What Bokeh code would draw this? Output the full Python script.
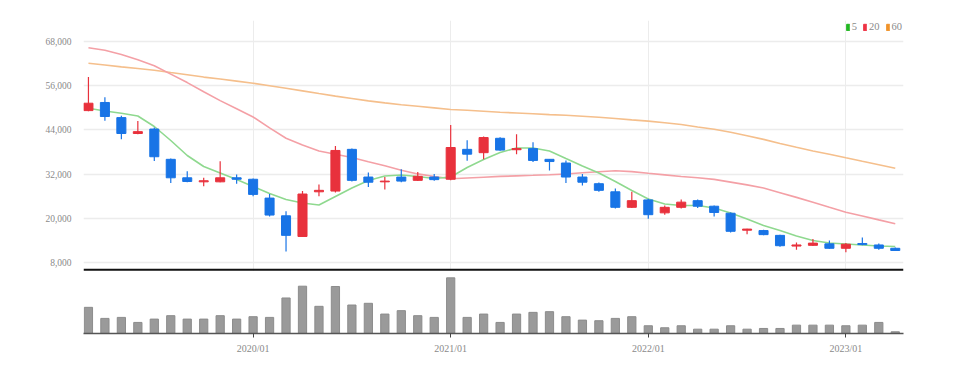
from bokeh.plotting import figure
from bokeh.models import (FixedTicker, NumeralTickFormatter, Span, Range1d,
                          Legend, LegendItem, ColumnDataSource)
from bokeh.layouts import column
from bokeh.embed import file_html
from bokeh.resources import INLINE

# ---------------- data ----------------
months = ["2019/03", "2019/04", "2019/05", "2019/06", "2019/07", "2019/08", "2019/09", "2019/10",
          "2019/11", "2019/12", "2020/01", "2020/02", "2020/03", "2020/04", "2020/05", "2020/06",
          "2020/07", "2020/08", "2020/09", "2020/10", "2020/11", "2020/12", "2021/01", "2021/02",
          "2021/03", "2021/04", "2021/05", "2021/06", "2021/07", "2021/08", "2021/09", "2021/10",
          "2021/11", "2021/12", "2022/01", "2022/02", "2022/03", "2022/04", "2022/05", "2022/06",
          "2022/07", "2022/08", "2022/09", "2022/10", "2022/11", "2022/12", "2023/01", "2023/02",
          "2023/03", "2023/04"]

open_ = [49200, 51400, 47300, 43000, 44200, 36000, 31000, 29900, 29900, 31000,
         30600, 25500, 20700, 15100, 27200, 27400, 38700, 31200, 29900, 31200,
         30300, 31200, 30600, 38700, 37800, 41700, 38600, 38900, 36000, 35000,
         31200, 29400, 27200, 23000, 25000, 21500, 23000, 24800, 23300, 21400,
         16800, 16700, 15400, 12500, 12700, 13100, 11900, 13200, 12800, 11900]
close = [51200, 47600, 43000, 43500, 36700, 31000, 30000, 30200, 31000, 30600,
         26500, 20900, 15400, 26600, 27600, 38400, 30300, 29800, 30100, 30100,
         31400, 30500, 39200, 37400, 41900, 38500, 38900, 35700, 35400, 31200,
         29800, 27600, 23000, 24800, 21000, 23000, 24400, 23300, 21600, 16500,
         17100, 15600, 12600, 12800, 13300, 11900, 13000, 12900, 11900, 11300]
high = [58300, 52800, 47800, 46400, 44600, 36200, 32800, 31000, 35500, 31900,
        30800, 26600, 21900, 27400, 29200, 39600, 38900, 32400, 31200, 33300,
        32600, 32000, 45300, 41200, 42200, 42000, 42800, 40600, 36100, 35700,
        32000, 29700, 28100, 27200, 25300, 23500, 25100, 25100, 23500, 21600,
        17200, 16900, 15600, 13500, 14400, 14000, 13300, 14800, 13200, 12100]
low = [49000, 46450, 41450, 42800, 35550, 29600, 29800, 28700, 29800, 29400,
       26000, 20500, 11000, 15000, 26000, 27000, 30000, 28500, 27800, 29800,
       30100, 30200, 30300, 35600, 36000, 38300, 37400, 35300, 33000, 29600,
       28900, 27200, 22700, 22800, 19900, 21000, 22700, 22800, 20500, 16200,
       15700, 15400, 12300, 11500, 12500, 11800, 10800, 12700, 11500, 11200]

ma5 = [49850, 49090, 48470, 47740, 44890, 41100, 37040, 34060, 32300, 30530,
       28640, 26740, 25120, 24170, 23630, 25930, 28230, 30260, 31480, 31750,
       31350, 30810, 31210, 33790, 35950, 37850, 39070, 39070, 38260, 36220,
       34190, 32300, 29990, 27560, 25250, 23900, 23490, 23490, 22810, 21460,
       19830, 18070, 16720, 15230, 14010, 13330, 13060, 12790, 12520, 12380]
ma20 = [66210, 65530, 64420, 62990, 61360, 59090, 56790, 54320, 51910, 49690,
        47470, 44510, 41720, 39880, 38260, 37390, 36490, 35360, 34250, 33050,
        32050, 31370, 30720, 30940, 31160, 31370, 31510, 31670, 31840, 32020,
        32350, 32650, 32890, 32670, 32210, 31780, 31350, 31020, 30560, 29830,
        29070, 28230, 26960, 25690, 24390, 23030, 21680, 20650, 19590, 18560]
ma60 = [62040, 61550, 61040, 60600, 60120, 59520, 58930, 58280, 57760, 57190,
        56620, 55950, 55240, 54540, 53830, 53130, 52480, 51830, 51290, 50800,
        50360, 49930, 49500, 49280, 49040, 48770, 48550, 48330, 48120, 47930,
        47680, 47380, 47060, 46680, 46360, 45920, 45430, 44760, 44130, 43320,
        42400, 41400, 40290, 39260, 38280, 37360, 36410, 35470, 34540, 33600]

volume = [2600000, 1500000, 1600000, 1100000, 1430000, 1770000, 1430000, 1430000, 1770000, 1430000,
          1670000, 1600000, 3530000, 4700000, 2700000, 4670000, 2830000, 3000000, 1930000, 2270000,
          1770000, 1600000, 5530000, 1600000, 1930000, 1100000, 1930000, 2100000, 2170000, 1670000,
          1330000, 1270000, 1500000, 1670000, 770000, 570000, 770000, 430000, 430000, 770000,
          430000, 500000, 500000, 830000, 830000, 830000, 770000, 830000, 1100000, 170000]

price_ticks = [8000, 20000, 32000, 44000, 56000, 68000]
ma_labels = ["5", "20", "60"]

# ---------------- styles ----------------
FONT = "Liberation Sans Narrow"
UP = "#e8313c"
DOWN = "#1874e6"
LBL = "#8a8a8a"

idx = list(range(len(months)))
colors = [UP if c >= o else DOWN for o, c in zip(open_, close)]
src = ColumnDataSource(dict(
    x=idx, high=high, low=low,
    top=[max(o, c) for o, c in zip(open_, close)],
    bottom=[min(o, c) for o, c in zip(open_, close)],
    color=colors))

year_idx = [i for i, m in enumerate(months) if m.endswith("/01")]

xr = Range1d(-0.3, 49.5)

# ---------------- price panel ----------------
p1 = figure(width=940, height=271, x_range=xr, y_range=Range1d(5612, 73608),
            output_backend="svg", toolbar_location=None,
            min_border_left=83, min_border_right=37, min_border_top=20, min_border_bottom=0)
p1.outline_line_color = None
p1.xaxis.visible = False
p1.xgrid.ticker = FixedTicker(ticks=year_idx)
p1.xgrid.grid_line_color = "#ececec"
p1.ygrid.ticker = FixedTicker(ticks=price_ticks)
p1.ygrid.grid_line_color = "#ececec"
p1.ygrid.grid_line_width = 1.5

ya = p1.yaxis[0]
ya.ticker = FixedTicker(ticks=price_ticks)
ya.formatter = NumeralTickFormatter(format="0,0")
ya.axis_line_color = None
ya.major_tick_line_color = None
ya.minor_tick_line_color = None
ya.major_label_text_color = LBL
ya.major_label_text_font = FONT
ya.major_label_text_font_size = "9.5px"
ya.major_label_standoff = 6

p1.line(idx, ma60, line_color="#f5bf8c", line_width=1.6)
p1.line(idx, ma20, line_color="#f4a0a6", line_width=1.6)
p1.line(idx, ma5, line_color="#8fd98f", line_width=1.6)

p1.segment(x0="x", y0="low", x1="x", y1="high", line_color="color", line_width=1.2, source=src)
p1.vbar(x="x", width=0.55, top="top", bottom="bottom", fill_color="color",
        line_color="color", source=src)

p1.add_layout(Span(location=6073, dimension="width", line_color="#111111", line_width=2))

# legend swatches (placed outside the visible range; only their legend boxes show)
leg_colors = ["#22b722", "#ee3344", "#f0932b"]
leg_r = [p1.quad(left=[-20], right=[-19], top=[0], bottom=[0], fill_color=c, line_color=c)
         for c in leg_colors]
legend = Legend(items=[LegendItem(label=l, renderers=[r]) for l, r in zip(ma_labels, leg_r)],
                orientation="horizontal", location="top_right",
                glyph_width=4, glyph_height=8, label_standoff=2, spacing=6,
                padding=1, margin=1, label_width=0, label_height=8,
                background_fill_alpha=0, border_line_color=None,
                label_text_font_size="10.5px", label_text_color=LBL, label_text_font=FONT)
p1.add_layout(legend)

# ---------------- volume panel ----------------
p2 = figure(width=940, height=85, x_range=xr, y_range=Range1d(0, 6160000),
            output_backend="svg", toolbar_location=None,
            min_border_left=83, min_border_right=37, min_border_top=0, min_border_bottom=0)
p2.outline_line_color = None
p2.yaxis.visible = False
p2.grid.visible = False
p2.vbar(x=idx, width=0.5, top=volume, bottom=0, fill_color="#9a9a9a", line_color="#8c8c8c")

xa = p2.xaxis[0]
xa.ticker = FixedTicker(ticks=year_idx)
xa.major_label_overrides = {i: months[i] for i in year_idx}
xa.axis_line_color = "#555555"
xa.axis_line_width = 1.5
xa.major_tick_line_color = "#444444"
xa.major_tick_out = 4
xa.major_tick_in = 0
xa.minor_tick_line_color = None
xa.major_label_text_color = LBL
xa.major_label_text_font = FONT
xa.major_label_text_font_size = "10px"
xa.major_label_standoff = 5

layout = column(p1, p2, spacing=0)
open("out.html", "w").write(file_html(layout, INLINE))
